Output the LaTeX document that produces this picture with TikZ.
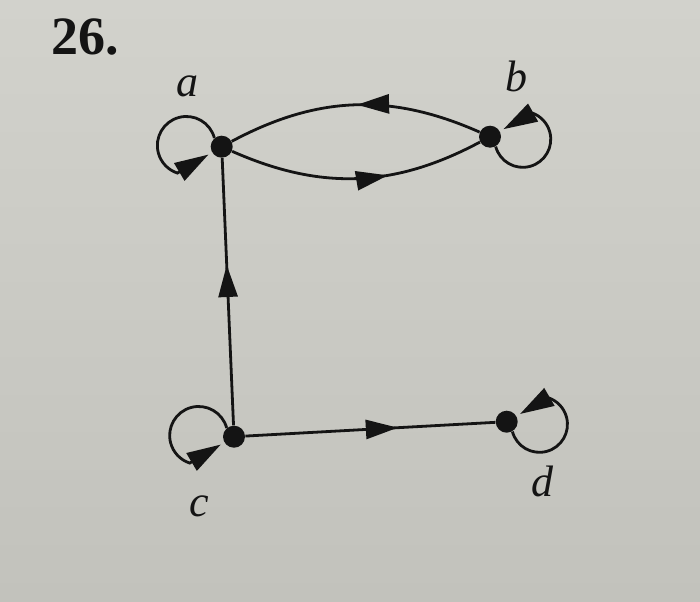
\documentclass[tikz,border=0pt]{standalone}
\usepackage{fontspec}
\setmainfont{Liberation Serif}
\usetikzlibrary{arrows.meta,decorations.markings}
\definecolor{papertop}{RGB}{210,210,204}
\definecolor{paperbot}{RGB}{194,194,188}
\definecolor{ink}{RGB}{20,20,20}
\begin{document}
\begin{tikzpicture}[x=0.5pt,y=0.5pt,
  vtx/.style={circle,fill=ink,inner sep=0pt,minimum size=11pt},
  lbl/.style={font=\fontsize{22}{26}\selectfont\itshape,text=ink,anchor=base,inner sep=0pt},
  edge/.style={color=ink,line width=1.4pt},
  tip/.style={-{Triangle[length=17pt,width=10pt]},shorten >=2pt},
  midarrow/.style={postaction={decorate},decoration={markings,mark=at position #1 with {\arrow{Triangle[length=16pt,width=9.5pt]}}}}
]
\shade[top color=papertop,bottom color=paperbot] (0,0) rectangle (700,601);
\useasboundingbox (0,0) rectangle (700,601);

\node[vtx] (a) at (221.7,454.3) {};
\node[vtx] (b) at (490,464.3) {};
\node[vtx] (c) at (234,164.3) {};
\node[vtx] (d) at (506.7,179.3) {};

\node[lbl] (la) at (187,504.3) {a};
\node[lbl] (lb) at (516,509.3) {b};
\node[lbl] (lc) at (199,84.3) {c};
\node[lbl] (ld) at (542,104.3) {d};
\node[font=\fontsize{27}{30}\selectfont\bfseries,anchor=base west,inner sep=0pt,text=ink] (num) at (51,546) {26.};

\draw[edge,midarrow=0.62] (a) to[bend right=26] (b);
\draw[edge,midarrow=0.49] (b) to[bend right=26] (a);
\draw[edge,midarrow=0.6] (c) -- (a);
\draw[edge,midarrow=0.61] (c) -- (d);

\draw[edge,tip] (a.130) arc[start angle=15,end angle=252,radius=29] -- (a);
\draw[edge,tip] (b.-60) arc[start angle=195,end angle=430,radius=28] -- (b);
\draw[edge,tip] (c.130) arc[start angle=15,end angle=252,radius=29] -- (c);
\draw[edge,tip] (d.-60) arc[start angle=195,end angle=432,radius=28] -- (d);
\end{tikzpicture}
\end{document}
